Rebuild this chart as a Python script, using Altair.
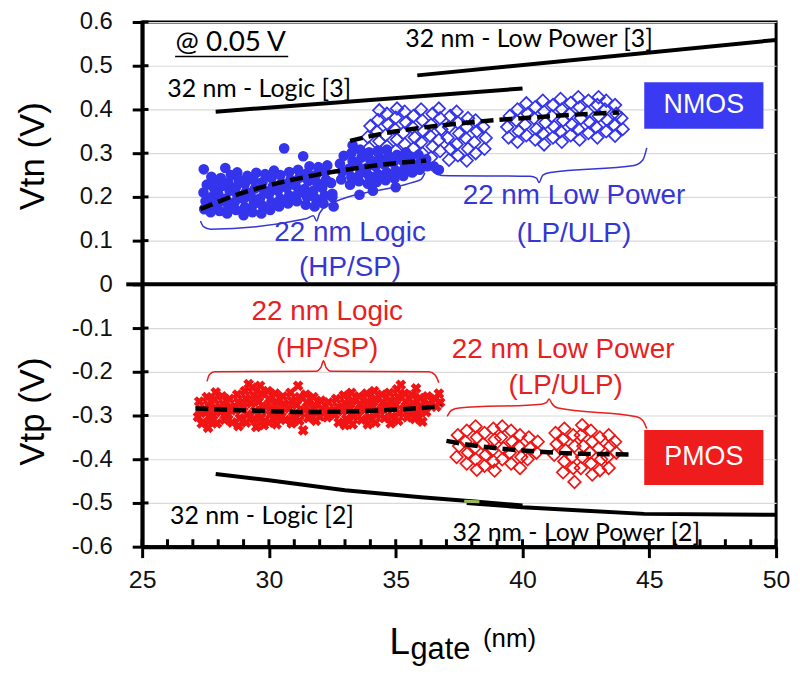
import altair as alt
import pandas as pd

# ---------------- data ----------------
x_ticks = [25, 30, 35, 40, 45, 50]
x_minor = [26, 27, 28, 29, 31, 32, 33, 34, 36, 37, 38, 39, 41, 42, 43, 44, 46, 47, 48, 49]
y_ticks = [0.6, 0.5, 0.4, 0.3, 0.2, 0.1, 0, -0.1, -0.2, -0.3, -0.4, -0.5, -0.6]

# NMOS, 22 nm Logic (HP/SP) - filled markers
nmos_logic = [
    (27.45, 0.172), (27.5, 0.19), (27.42, 0.21), (27.55, 0.228), (27.43, 0.263), (27.73, 0.246),
    (27.7, 0.165), (27.8, 0.182), (27.75, 0.2), (27.85, 0.218), (27.9, 0.236),
    (28.05, 0.168), (28.1, 0.19), (28.0, 0.207), (28.15, 0.225), (28.1, 0.243), (28.28, 0.266),
    (28.35, 0.162), (28.4, 0.178), (28.3, 0.196), (28.45, 0.214), (28.4, 0.232), (28.5, 0.25),
    (28.7, 0.17), (28.65, 0.188), (28.75, 0.205), (28.7, 0.222), (28.8, 0.24), (28.75, 0.256),
    (29.0, 0.158), (29.05, 0.176), (29.0, 0.195), (29.1, 0.212), (29.05, 0.23), (29.15, 0.248),
    (29.35, 0.165), (29.4, 0.183), (29.3, 0.2), (29.45, 0.219), (29.4, 0.238), (29.5, 0.255),
    (29.7, 0.162), (29.75, 0.18), (29.65, 0.197), (29.8, 0.215), (29.75, 0.234), (29.85, 0.252),
    (30.05, 0.17), (30.1, 0.188), (30.0, 0.206), (30.15, 0.224), (30.1, 0.243), (30.2, 0.26),
    (30.4, 0.178), (30.45, 0.196), (30.35, 0.214), (30.5, 0.232), (30.45, 0.25), (30.6, 0.311),
    (30.75, 0.185), (30.8, 0.203), (30.7, 0.221), (30.85, 0.239), (30.8, 0.257),
    (31.1, 0.19), (31.15, 0.208), (31.05, 0.226), (31.2, 0.244), (31.15, 0.262), (31.35, 0.293),
    (31.45, 0.182), (31.5, 0.2), (31.4, 0.218), (31.55, 0.236), (31.5, 0.254), (31.6, 0.27),
    (31.8, 0.178), (31.85, 0.196), (31.75, 0.214), (31.9, 0.232), (31.85, 0.25), (31.95, 0.268),
    (32.15, 0.185), (32.2, 0.203), (32.1, 0.221), (32.25, 0.239), (32.2, 0.257), (32.3, 0.272),
    (32.5, 0.2), (32.55, 0.178), (32.45, 0.232),
    (32.85, 0.24), (32.9, 0.258), (32.8, 0.276), (32.95, 0.294),
    (33.2, 0.228), (33.25, 0.246), (33.15, 0.264), (33.3, 0.282), (33.25, 0.3), (33.3, 0.318),
    (33.57, 0.205), (33.55, 0.236), (33.6, 0.254), (33.5, 0.272), (33.65, 0.29), (33.6, 0.308),
    (33.9, 0.23), (33.95, 0.248), (33.85, 0.266), (34.0, 0.284), (33.95, 0.302),
    (34.25, 0.234), (34.3, 0.252), (34.2, 0.27), (34.35, 0.288), (34.3, 0.306),
    (34.6, 0.238), (34.65, 0.256), (34.55, 0.274), (34.7, 0.292), (34.65, 0.308),
    (34.95, 0.242), (35.0, 0.26), (34.9, 0.278), (35.05, 0.296),
    (35.3, 0.248), (35.35, 0.266), (35.25, 0.284), (35.4, 0.302),
    (35.65, 0.256), (35.7, 0.274), (35.6, 0.292),
    (35.95, 0.262), (36.0, 0.28), (35.9, 0.296),
    (36.25, 0.27), (36.2, 0.286), (36.5, 0.27), (36.7, 0.262),
    (32.5, 0.207), (34.1, 0.214), (35.0, 0.222),
]

# NMOS, 22 nm Low Power (LP/ULP) - open diamonds
nmos_lp = [
    (33.95, 0.312), (33.9, 0.337), (34.0, 0.362),
    (34.3, 0.302), (34.35, 0.327), (34.25, 0.35), (34.3, 0.376), (34.35, 0.398),
    (34.65, 0.316), (34.6, 0.341), (34.7, 0.366), (34.65, 0.39),
    (35.0, 0.306), (35.05, 0.331), (34.95, 0.356), (35.0, 0.381), (35.05, 0.402),
    (35.35, 0.321), (35.3, 0.346), (35.4, 0.37), (35.35, 0.395),
    (35.7, 0.311), (35.75, 0.336), (35.65, 0.36), (35.7, 0.385),
    (36.05, 0.3), (36.0, 0.325), (36.1, 0.35), (36.05, 0.375), (36.0, 0.4),
    (36.4, 0.29), (36.45, 0.315), (36.35, 0.34), (36.4, 0.365), (36.45, 0.39),
    (36.75, 0.305), (36.7, 0.33), (36.8, 0.355), (36.75, 0.38), (36.7, 0.402),
    (37.1, 0.285), (37.15, 0.31), (37.05, 0.335), (37.1, 0.36), (37.15, 0.385),
    (37.45, 0.295), (37.4, 0.32), (37.5, 0.345), (37.45, 0.37), (37.4, 0.395),
    (37.8, 0.283), (37.85, 0.31), (37.75, 0.335), (37.8, 0.36), (37.85, 0.38),
    (38.15, 0.3), (38.1, 0.325), (38.2, 0.35), (38.15, 0.375),
    (38.5, 0.31), (38.55, 0.335), (38.45, 0.36),
    (39.45, 0.336), (39.4, 0.36), (39.5, 0.385),
    (39.8, 0.326), (39.85, 0.35), (39.75, 0.375), (39.8, 0.4),
    (40.15, 0.341), (40.1, 0.365), (40.2, 0.39), (40.15, 0.414),
    (40.5, 0.331), (40.55, 0.355), (40.45, 0.38), (40.5, 0.405),
    (40.85, 0.32), (40.8, 0.345), (40.9, 0.37), (40.85, 0.395), (40.8, 0.42),
    (41.2, 0.336), (41.25, 0.36), (41.15, 0.385), (41.2, 0.41),
    (41.55, 0.326), (41.5, 0.35), (41.6, 0.375), (41.55, 0.4), (41.5, 0.424),
    (41.9, 0.341), (41.95, 0.365), (41.85, 0.39), (41.9, 0.415),
    (42.25, 0.331), (42.2, 0.355), (42.3, 0.38), (42.25, 0.405), (42.2, 0.428),
    (42.6, 0.346), (42.65, 0.37), (42.55, 0.395), (42.6, 0.42),
    (42.95, 0.336), (42.9, 0.36), (43.0, 0.385), (42.95, 0.41), (43.0, 0.428),
    (43.3, 0.35), (43.35, 0.375), (43.25, 0.4), (43.3, 0.42),
    (43.65, 0.34), (43.6, 0.365), (43.7, 0.39), (43.65, 0.41),
    (43.95, 0.355), (43.9, 0.38),
]

# PMOS, 22 nm Logic (HP/SP) - filled x markers
pmos_logic = [
    (27.25, -0.268), (27.3, -0.286), (27.2, -0.303), (27.35, -0.318),
    (27.55, -0.258), (27.6, -0.276), (27.5, -0.294), (27.65, -0.312), (27.6, -0.328),
    (27.85, -0.264), (27.9, -0.282), (27.8, -0.3), (27.95, -0.318), (27.9, -0.247),
    (28.15, -0.256), (28.2, -0.274), (28.1, -0.292), (28.25, -0.31),
    (28.45, -0.262), (28.5, -0.28), (28.4, -0.298), (28.55, -0.316),
    (28.75, -0.252), (28.8, -0.27), (28.7, -0.288), (28.85, -0.306), (28.8, -0.324),
    (29.05, -0.244), (29.1, -0.262), (29.0, -0.28), (29.15, -0.298), (29.1, -0.316), (29.2, -0.228),
    (29.35, -0.236), (29.4, -0.254), (29.3, -0.272), (29.45, -0.29), (29.4, -0.308), (29.5, -0.326),
    (29.65, -0.232), (29.7, -0.25), (29.6, -0.268), (29.75, -0.286), (29.7, -0.304), (29.8, -0.322),
    (29.95, -0.244), (30.0, -0.262), (29.9, -0.28), (30.05, -0.298), (30.0, -0.316),
    (30.25, -0.25), (30.3, -0.268), (30.2, -0.286), (30.35, -0.304), (30.3, -0.32),
    (30.55, -0.256), (30.6, -0.274), (30.5, -0.292), (30.65, -0.31),
    (30.85, -0.248), (30.9, -0.266), (30.8, -0.284), (30.95, -0.302), (30.9, -0.318),
    (31.15, -0.232), (31.2, -0.258), (31.1, -0.276), (31.25, -0.294), (31.2, -0.312), (31.35, -0.334),
    (31.45, -0.252), (31.5, -0.27), (31.4, -0.288), (31.55, -0.306),
    (31.75, -0.258), (31.8, -0.276), (31.7, -0.294), (31.85, -0.312),
    (32.05, -0.266), (32.1, -0.284), (32.0, -0.302),
    (32.35, -0.27), (32.4, -0.288), (32.3, -0.304),
    (32.65, -0.262), (32.7, -0.28), (32.6, -0.298), (32.75, -0.316),
    (32.95, -0.254), (33.0, -0.272), (32.9, -0.29), (33.05, -0.308), (33.0, -0.322),
    (33.25, -0.248), (33.3, -0.266), (33.2, -0.284), (33.35, -0.302), (33.3, -0.32),
    (33.55, -0.256), (33.6, -0.274), (33.5, -0.292), (33.65, -0.31),
    (33.85, -0.25), (33.9, -0.268), (33.8, -0.286), (33.95, -0.304), (33.9, -0.32),
    (34.15, -0.244), (34.2, -0.262), (34.1, -0.28), (34.25, -0.298), (34.2, -0.316),
    (34.45, -0.252), (34.5, -0.27), (34.4, -0.288), (34.55, -0.306),
    (34.75, -0.248), (34.8, -0.266), (34.7, -0.284), (34.85, -0.302), (34.8, -0.318),
    (35.05, -0.24), (35.1, -0.258), (35.0, -0.276), (35.15, -0.294), (35.1, -0.312), (35.2, -0.23),
    (35.35, -0.25), (35.4, -0.268), (35.3, -0.286), (35.45, -0.304),
    (35.65, -0.254), (35.7, -0.272), (35.6, -0.29), (35.75, -0.308), (35.8, -0.238),
    (35.95, -0.26), (36.0, -0.278), (35.9, -0.296), (36.05, -0.314),
    (36.25, -0.256), (36.3, -0.274), (36.2, -0.292),
    (36.55, -0.262), (36.6, -0.28), (36.7, -0.25), (36.75, -0.27),
]

# PMOS, 22 nm Low Power (LP/ULP) - open diamonds
pmos_lp = [
    (37.45, -0.345), (37.5, -0.37), (37.4, -0.395),
    (37.8, -0.335), (37.75, -0.36), (37.85, -0.385), (37.8, -0.41),
    (38.15, -0.325), (38.2, -0.35), (38.1, -0.375), (38.15, -0.4), (38.2, -0.424),
    (38.5, -0.34), (38.45, -0.365), (38.55, -0.39), (38.5, -0.415),
    (38.85, -0.33), (38.9, -0.355), (38.8, -0.38), (38.85, -0.405), (38.9, -0.426),
    (39.2, -0.325), (39.15, -0.35), (39.25, -0.375), (39.2, -0.4),
    (39.55, -0.335), (39.6, -0.36), (39.5, -0.385), (39.55, -0.41),
    (39.9, -0.345), (39.85, -0.37), (39.95, -0.395), (39.9, -0.42),
    (40.25, -0.35), (40.3, -0.375), (40.2, -0.4),
    (40.6, -0.36), (40.55, -0.385),
    (41.3, -0.34), (41.35, -0.365), (41.25, -0.39),
    (41.65, -0.33), (41.6, -0.355), (41.7, -0.38), (41.65, -0.405), (41.6, -0.43),
    (42.0, -0.345), (42.05, -0.37), (41.95, -0.395), (42.0, -0.42), (42.05, -0.452),
    (42.35, -0.322), (42.3, -0.345), (42.4, -0.37), (42.35, -0.395), (42.3, -0.42),
    (42.7, -0.335), (42.75, -0.36), (42.65, -0.385), (42.7, -0.41), (42.75, -0.435),
    (43.05, -0.35), (43.0, -0.375), (43.1, -0.4), (43.05, -0.425),
    (43.4, -0.345), (43.45, -0.37), (43.35, -0.395), (43.4, -0.42),
    (43.65, -0.36), (43.7, -0.385),
]

# dashed trend lines
fit_nmos_logic = [(27.3, 0.172), (28.5, 0.2), (29.7, 0.222), (31.0, 0.24), (32.3, 0.255),
                  (33.5, 0.266), (34.8, 0.276), (36.2, 0.283)]
fit_nmos_lp = [(33.2, 0.328), (34.5, 0.345), (36.0, 0.358), (37.5, 0.368), (39.0, 0.376),
               (40.5, 0.382), (42.0, 0.388), (43.8, 0.393)]
fit_pmos_logic = [(27.1, -0.284), (28.5, -0.287), (30.0, -0.29), (31.5, -0.292), (33.0, -0.291),
                  (34.5, -0.288), (35.7, -0.284), (36.8, -0.279)]
fit_pmos_lp = [(37.0, -0.358), (38.0, -0.368), (39.0, -0.375), (40.0, -0.38), (41.0, -0.384),
               (42.0, -0.387), (43.0, -0.388), (44.2, -0.389)]

# 32 nm reference lines
ref_nmos_logic = [(27.9, 0.395), (40.0, 0.448)]
ref_nmos_lp = [(35.85, 0.478), (50.0, 0.559)]
ref_pmos_logic = [(27.9, -0.434), (30.0, -0.448), (33.0, -0.471), (36.0, -0.487), (38.0, -0.496), (40.0, -0.506)]
ref_pmos_lp = [(37.8, -0.5), (40.0, -0.51), (42.5, -0.518), (44.8, -0.525), (50.0, -0.527)]
ref_green = [(37.7, -0.496), (38.3, -0.497)]

# curly braces
brace_nmos_logic = [(27.3, 0.145), (27.42, 0.132), (27.7, 0.126), (31.45, 0.150), (31.75, 0.157),
                    (31.88, 0.145), (32.0, 0.163), (32.35, 0.182), (35.6, 0.232), (36.0, 0.240), (36.15, 0.255)]
brace_nmos_lp = [(36.4, 0.272), (36.5, 0.256), (36.8, 0.249), (40.3, 0.247), (40.55, 0.243),
                 (40.65, 0.233), (40.8, 0.25), (41.1, 0.256), (44.4, 0.272), (44.75, 0.285), (44.9, 0.312)]
brace_pmos_logic = [(27.56, -0.222), (27.65, -0.207), (27.85, -0.2), (31.85, -0.199), (32.05, -0.19),
                    (32.15, -0.175), (32.25, -0.19), (32.45, -0.199), (36.3, -0.2), (36.55, -0.207), (36.7, -0.225)]
brace_pmos_lp = [(37.03, -0.302), (37.2, -0.288), (37.5, -0.283), (40.75, -0.274), (40.95, -0.27),
                 (41.05, -0.262), (41.15, -0.272), (41.4, -0.283), (44.5, -0.303), (44.75, -0.312), (44.9, -0.33)]

# text annotations
black_labels = [("32 nm - Logic [3]", 25.99, 0.447), ("32 nm - Low Power [3]", 35.38, 0.56),
                ("32 nm - Logic [2]", 26.1, -0.529), ("32 nm - Low Power [2]", 37.24, -0.568)]
note_label = [("@ 0.05 V", 26.32, 0.552)]
note_underline = [(26.3, 0.521), (30.76, 0.521)]
blue_labels = [("22 nm Logic", 33.2, 0.118), ("(HP/SP)", 33.2, 0.037),
               ("22 nm Low Power", 42.03, 0.203), ("(LP/ULP)", 42.03, 0.115)]
red_labels = [("22 nm Logic", 32.3, -0.064), ("(HP/SP)", 32.3, -0.148),
              ("22 nm Low Power", 41.6, -0.15), ("(LP/ULP)", 41.7, -0.232)]
boxes = [("NMOS", 44.8, 49.5, 0.356, 0.462), ("PMOS", 44.8, 49.5, -0.459, -0.333)]

BLUE = "#3434EC"
BLUE_TXT = "#3636D4"
RED = "#F01414"
RED_TXT = "#E8201E"

# ---------------- helpers ----------------
def pts(pairs):
    return pd.DataFrame(pairs, columns=["x", "y"])


def path(pairs):
    df = pd.DataFrame(pairs, columns=["x", "y"])
    df["o"] = range(len(df))
    return df


def texts(rows):
    return pd.DataFrame(rows, columns=["t", "x", "y"])


X = alt.X("x:Q", scale=alt.Scale(domain=[25, 50], nice=False, zero=False),
          axis=alt.Axis(values=x_ticks, format="d", title=None, grid=False,
                        labelFont="Liberation Sans", labelFontSize=25, labelColor="#111111",
                        labelPadding=10, tickSize=11, tickWidth=3, tickColor="black",
                        domainColor="black", domainWidth=4, labelFlush=False))
Y = alt.Y("y:Q", scale=alt.Scale(domain=[-0.6, 0.6], nice=False, zero=False),
          axis=alt.Axis(values=y_ticks, title=None, grid=True, gridColor="#d9d9d9", gridWidth=1.2,
                        labelExpr="datum.value == 0 ? '0' : (datum.value < 0 ? '-' : '') + format(abs(datum.value), '.1f')",
                        labelFont="Liberation Sans", labelFontSize=24, labelColor="#111111",
                        labelPadding=20, tickSize=10, tickWidth=3, tickColor="black",
                        domainColor="black", domainWidth=4))

layers = []

# inner tick parts
layers.append(alt.Chart(pd.DataFrame({"y": y_ticks, "x": [25] * len(y_ticks), "x2": [25.25] * len(y_ticks)}))
              .mark_rule(color="black", strokeWidth=3)
              .encode(x=X, x2="x2:Q", y=Y))
xin = x_ticks + x_minor
layers.append(alt.Chart(pd.DataFrame({"x": xin, "y": [-0.6] * len(xin), "y2": [-0.583] * len(xin)}))
              .mark_rule(color="black", strokeWidth=3)
              .encode(x=X, y=Y, y2="y2:Q"))

# zero line
layers.append(alt.Chart(pd.DataFrame({"y": [0]})).mark_rule(color="black", strokeWidth=4).encode(y=Y))
layers.append(alt.Chart(pd.DataFrame({"y": [0]})).mark_rule(color="black", strokeWidth=4)
              .encode(y=Y, x=alt.value(-16), x2=alt.value(0)))

# markers
layers.append(alt.Chart(pts(nmos_logic)).mark_point(shape="circle", filled=True, size=115, color=BLUE, opacity=1)
              .encode(x=X, y=Y))
layers.append(alt.Chart(pts(nmos_lp)).mark_point(shape="diamond", filled=False, size=160, strokeWidth=1.7,
                                                 color=BLUE, opacity=1).encode(x=X, y=Y))
layers.append(alt.Chart(pts(pmos_logic)).mark_point(shape="cross", angle=45, filled=True, size=120, color=RED,
                                                    opacity=1).encode(x=X, y=Y))
layers.append(alt.Chart(pts(pmos_lp)).mark_point(shape="diamond", filled=False, size=160, strokeWidth=1.7,
                                                 color=RED, opacity=1).encode(x=X, y=Y))

# reference solid lines
for ln in (ref_nmos_logic, ref_nmos_lp, ref_pmos_logic, ref_pmos_lp):
    layers.append(alt.Chart(path(ln)).mark_line(color="black", strokeWidth=4)
                  .encode(x=X, y=Y, order="o:Q"))
layers.append(alt.Chart(path(ref_green)).mark_line(color="#9BBB59", strokeWidth=3)
              .encode(x=X, y=Y, order="o:Q"))

# dashed fits
for ln in (fit_nmos_logic, fit_nmos_lp, fit_pmos_logic, fit_pmos_lp):
    layers.append(alt.Chart(path(ln)).mark_line(color="black", strokeWidth=4.5, strokeDash=[13, 6],
                                                interpolate="monotone")
                  .encode(x=X, y=Y, order="o:Q"))

# braces
for ln, c in ((brace_nmos_logic, BLUE_TXT), (brace_nmos_lp, BLUE_TXT),
              (brace_pmos_logic, RED_TXT), (brace_pmos_lp, RED_TXT)):
    layers.append(alt.Chart(path(ln)).mark_line(color=c, strokeWidth=1.5, interpolate="monotone")
                  .encode(x=X, y=Y, order="o:Q"))

# text labels
layers.append(alt.Chart(texts(black_labels)).mark_text(align="left", baseline="middle", font="Lato",
                                                       fontSize=25, color="black")
              .encode(x=X, y=Y, text="t:N"))
layers.append(alt.Chart(texts(note_label)).mark_text(align="left", baseline="middle", font="Lato",
                                                     fontSize=28, color="black")
              .encode(x=X, y=Y, text="t:N"))
layers.append(alt.Chart(path(note_underline)).mark_line(color="black", strokeWidth=1.5)
              .encode(x=X, y=Y, order="o:Q"))
layers.append(alt.Chart(texts(blue_labels)).mark_text(align="center", baseline="middle",
                                                      font="Liberation Sans", fontSize=28, color=BLUE_TXT)
              .encode(x=X, y=Y, text="t:N"))
layers.append(alt.Chart(texts(red_labels)).mark_text(align="center", baseline="middle",
                                                     font="Liberation Sans", fontSize=28, color=RED_TXT)
              .encode(x=X, y=Y, text="t:N"))

# NMOS / PMOS boxes
bdf = pd.DataFrame(boxes, columns=["t", "x", "x2", "y", "y2"])
bdf["xc"] = (bdf["x"] + bdf["x2"]) / 2
bdf["yc"] = (bdf["y"] + bdf["y2"]) / 2
bdf["c"] = ["#3A3AF2", "#EE1C1C"]
layers.append(alt.Chart(bdf).mark_rect().encode(x=X, x2="x2:Q", y=Y, y2="y2:Q",
                                                color=alt.Color("c:N", scale=None)))
layers.append(alt.Chart(bdf).mark_text(align="center", baseline="middle", font="Liberation Sans",
                                       fontSize=27, color="white")
              .encode(x=alt.X("xc:Q"), y=alt.Y("yc:Q"), text="t:N"))

# axis titles (text placed outside the plot area)
ytitles = pd.DataFrame({"t": ["Vtn (V)", "Vtp (V)"], "y": [0.293, -0.291]})
layers.append(alt.Chart(ytitles).mark_text(angle=270, align="center", baseline="middle",
                                           font="Liberation Sans", fontSize=35, color="black")
              .encode(y=Y, x=alt.value(-110), text="t:N"))
layers.append(alt.Chart(pd.DataFrame({"t": ["L"]})).mark_text(align="left", baseline="alphabetic",
                                                            font="Liberation Sans", fontSize=37, color="black")
              .encode(x=alt.value(249), y=alt.value(636), text="t:N"))
layers.append(alt.Chart(pd.DataFrame({"t": ["gate"]})).mark_text(align="left", baseline="alphabetic",
                                                               font="Liberation Sans", fontSize=31, color="black")
              .encode(x=alt.value(270), y=alt.value(641), text="t:N"))
layers.append(alt.Chart(pd.DataFrame({"t": ["(nm)"]})).mark_text(align="left", baseline="alphabetic",
                                                               font="Liberation Sans", fontSize=26, color="black")
              .encode(x=alt.value(343), y=alt.value(629), text="t:N"))

chart = (alt.layer(*layers)
         .properties(width=638, height=528,
                     padding={"left": 135, "top": 12, "right": 16, "bottom": 120},
                     autosize=alt.AutoSizeParams(type="none"))
         .configure_view(stroke="black", strokeWidth=3)
         .configure_axis(zindex=0))

chart.save("out.html", embed_options={"renderer": "svg", "actions": False})
